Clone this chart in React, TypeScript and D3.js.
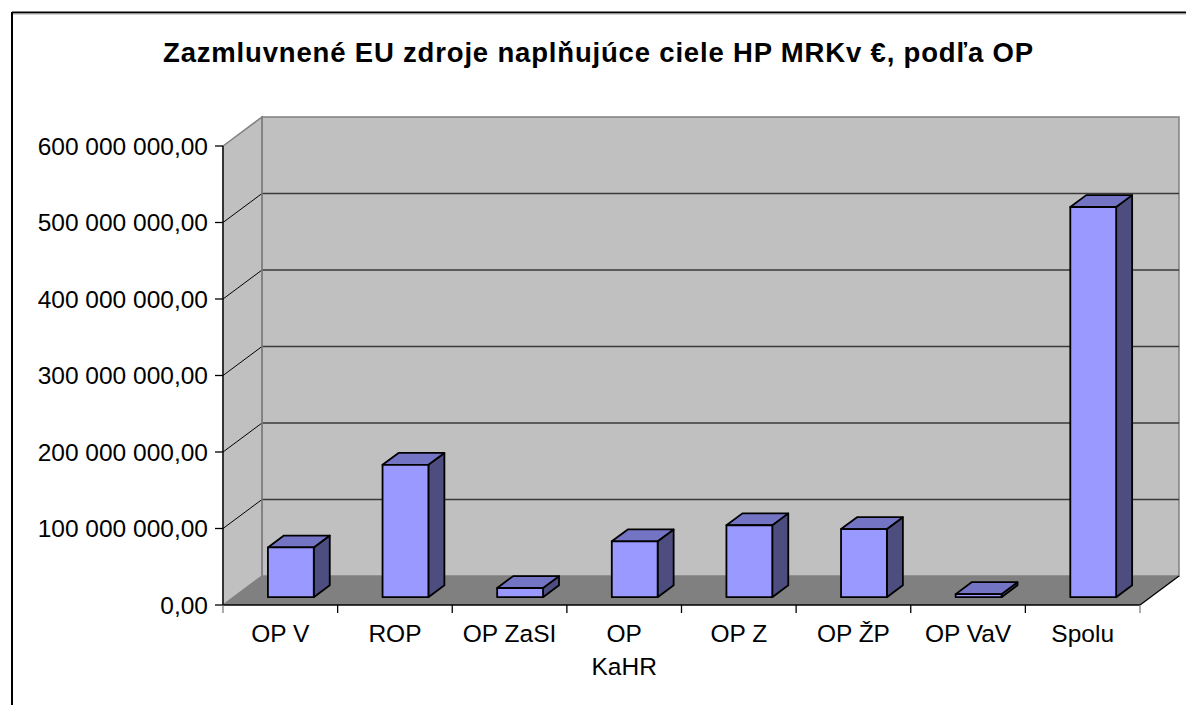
import React, { useEffect, useRef } from 'react';
import * as d3 from 'd3';

const categories = ['OP V', 'ROP', 'OP ZaSI', 'OP KaHR', 'OP Z', 'OP ŽP', 'OP VaV', 'Spolu'];
const values = [65e6, 173e6, 12e6, 73e6, 94e6, 89e6, 4e6, 510e6];
const yTicks = [0, 100e6, 200e6, 300e6, 400e6, 500e6, 600e6];
const titleText = 'Zazmluvnené EU zdroje  naplňujúce ciele HP MRKv €, podľa OP';

export default function App() {
  const svgRef = useRef<SVGSVGElement>(null);

  useEffect(() => {
    if (!svgRef.current) return;
    const svg = d3.select(svgRef.current);
    svg.selectAll('*').remove();

    const W = 1186, H = 705;
    const left = 223, right = 1140, bottom = 605, top = 146;
    const DX = 39, DY = -29; // wall depth
    const d0 = 0.27, d1 = 0.68; // bar depth in wall

    const x = d3.scaleBand<string>().domain(categories).range([left, right]).paddingInner(0.6).paddingOuter(0.3);
    const xCat = d3.scaleBand<string>().domain(categories).range([left, right]).padding(0);
    const y = d3.scaleLinear().domain([0, 600e6]).range([bottom, top]);

    svg.attr('width', W).attr('height', H);
    svg.append('rect').attr('width', W).attr('height', H).attr('fill', '#fff');

    // frame
    svg.append('line').attr('x1', 12).attr('x2', W).attr('y1', 12.5).attr('y2', 12.5)
      .attr('stroke', '#000').attr('stroke-width', 2);
    svg.append('line').attr('x1', 12).attr('x2', W).attr('y1', 14).attr('y2', 14)
      .attr('stroke', '#aaa').attr('stroke-width', 1);
    svg.append('line').attr('x1', 12).attr('x2', 12).attr('y1', 12).attr('y2', H)
      .attr('stroke', '#000').attr('stroke-width', 2);

    svg.append('text')
      .attr('x', 598).attr('y', 62)
      .attr('text-anchor', 'middle')
      .style('font-family', 'Arial, "Liberation Sans", sans-serif')
      .style('font-weight', 'bold')
      .style('font-size', '27.5px')
      .attr('textLength', 870)
      .attr('lengthAdjust', 'spacing')
      .text(titleText);

    const pts = (p: [number, number][]) => p.map(q => q.join(',')).join(' ');
    const y0 = y(0), yTop = y(600e6);

    // back wall
    svg.append('polygon')
      .attr('points', pts([[left + DX, yTop + DY], [right + DX, yTop + DY], [right + DX, y0 + DY], [left + DX, y0 + DY]]))
      .attr('fill', '#c0c0c0').attr('stroke', '#808080').attr('stroke-width', 1.5);
    // left wall
    svg.append('polygon')
      .attr('points', pts([[left, yTop], [left + DX, yTop + DY], [left + DX, y0 + DY], [left, y0]]))
      .attr('fill', '#c0c0c0').attr('stroke', '#808080').attr('stroke-width', 1.5);
    // floor
    svg.append('polygon')
      .attr('points', pts([[left, y0], [left + DX, y0 + DY], [right + DX, y0 + DY], [right, y0]]))
      .attr('fill', '#808080');

    // gridlines
    yTicks.filter(t => t > 0 && t < 600e6).forEach(t => {
      svg.append('line')
        .attr('x1', left + DX).attr('x2', right + DX)
        .attr('y1', y(t) + DY).attr('y2', y(t) + DY)
        .attr('stroke', '#3a3a3a').attr('stroke-width', 1.3);
      svg.append('line')
        .attr('x1', left).attr('x2', left + DX)
        .attr('y1', y(t)).attr('y2', y(t) + DY)
        .attr('stroke', '#000').attr('stroke-width', 1);
    });
    svg.append('line')
      .attr('x1', left + DX).attr('x2', left + DX).attr('y1', yTop + DY).attr('y2', y0 + DY)
      .attr('stroke', '#808080').attr('stroke-width', 1.5);

    // floor front and right edges
    svg.append('line').attr('x1', left).attr('x2', right).attr('y1', y0).attr('y2', y0)
      .attr('stroke', '#000').attr('stroke-width', 1.3);
    svg.append('line').attr('x1', right).attr('x2', right + DX).attr('y1', y0).attr('y2', y0 + DY)
      .attr('stroke', '#000').attr('stroke-width', 1.3);

    // y axis
    svg.append('line').attr('x1', left).attr('x2', left).attr('y1', yTop).attr('y2', y0)
      .attr('stroke', '#000').attr('stroke-width', 1.3);
    const fmt = (v: number) => d3.format(',.2f')(v).replace(/,/g, ' ').replace('.', ',');
    yTicks.forEach(t => {
      svg.append('line').attr('x1', left - 8).attr('x2', left).attr('y1', y(t)).attr('y2', y(t))
        .attr('stroke', '#000').attr('stroke-width', 1.3);
      svg.append('text')
        .attr('x', 208).attr('y', y(t)).attr('dy', '0.36em')
        .attr('text-anchor', 'end')
        .style('font-family', 'Arial, "Liberation Sans", sans-serif')
        .style('font-size', '24.5px')
        .text(fmt(t));
    });

    // x ticks and labels
    const tickXs = categories.map(c => xCat(c)!).concat([right]);
    tickXs.forEach(tx => {
      svg.append('line').attr('x1', tx).attr('x2', tx).attr('y1', y0).attr('y2', y0 + 8)
        .attr('stroke', tx === right || tx === left ? '#808080' : '#000').attr('stroke-width', 1.3);
    });
    categories.forEach(c => {
      const cx = xCat(c)! + xCat.bandwidth() / 2;
      const lines = c === 'OP KaHR' ? ['OP', 'KaHR'] : [c];
      const t = svg.append('text')
        .attr('x', cx).attr('y', 642)
        .attr('text-anchor', 'middle')
        .style('font-family', 'Arial, "Liberation Sans", sans-serif')
        .style('font-size', '24.5px');
      lines.forEach((l, i) => {
        t.append('tspan').attr('x', cx).attr('dy', i === 0 ? 0 : 33).text(l);
      });
    });

    // bars
    const fx = DX * d0, fy = DY * d0;
    const bx = DX * (d1 - d0), by = DY * (d1 - d0);
    categories.forEach((c, i) => {
      const xl = x(c)! + fx, xr = xl + x.bandwidth();
      const yb = y(0) + fy, yt = y(values[i]) + fy;
      const g = svg.append('g').attr('stroke', '#000').attr('stroke-width', 1.8).attr('stroke-linejoin', 'round');
      g.append('polygon').attr('points', pts([[xr, yt], [xr + bx, yt + by], [xr + bx, yb + by], [xr, yb]]))
        .attr('fill', '#4d4d80');
      g.append('polygon').attr('points', pts([[xl, yt], [xl + bx, yt + by], [xr + bx, yt + by], [xr, yt]]))
        .attr('fill', '#7474c4');
      g.append('rect').attr('x', xl).attr('y', yt).attr('width', xr - xl).attr('height', yb - yt)
        .attr('fill', '#9999ff');
    });
  }, []);

  return (
    <div style={{ position: 'absolute', left: 0, top: 0, width: 1186, height: 705, overflow: 'hidden' }}>
      <svg ref={svgRef} style={{ display: 'block' }} />
    </div>
  );
}
